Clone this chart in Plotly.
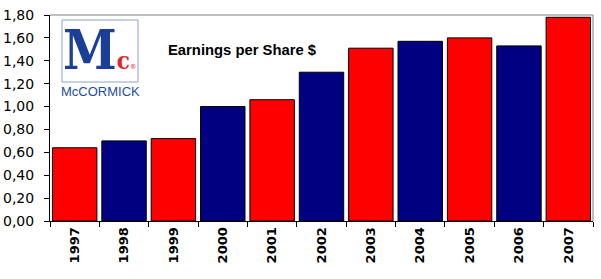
import plotly.graph_objects as go

years = ["1997", "1998", "1999", "2000", "2001", "2002", "2003", "2004", "2005", "2006", "2007"]
eps = [0.64, 0.70, 0.72, 1.00, 1.06, 1.30, 1.51, 1.57, 1.60, 1.53, 1.78]
colors = ["#FF0000", "#000080"] * 6
colors = colors[:len(years)]
ytick_vals = [0, 0.2, 0.4, 0.6, 0.8, 1.0, 1.2, 1.4, 1.6, 1.8]
ytick_text = ["0,00", "0,20", "0,40", "0,60", "0,80", "1,00", "1,20", "1,40", "1,60", "1,80"]

fig = go.Figure()
fig.add_trace(go.Bar(x=years, y=eps, marker=dict(color=colors, line=dict(color="black", width=1))))

fig.update_layout(
    width=601, height=279,
    margin=dict(l=50, r=8, t=15, b=58, autoexpand=False),
    paper_bgcolor="white", plot_bgcolor="white",
    bargap=0.1, showlegend=False,
    xaxis=dict(type="category", showline=True, linecolor="black", linewidth=1, automargin=False,
               ticks="outside", tickson="boundaries", ticklen=5, tickcolor="black",
               tickangle=-90, tickfont=dict(family="DejaVu Sans", size=13, color="black", weight="bold"),
               showgrid=False),
    yaxis=dict(range=[0, 1.8], tickvals=ytick_vals, ticktext=ytick_text, showline=True,
               linecolor="black", linewidth=1, ticks="outside", ticklen=5, tickcolor="black",
               ticklabelstandoff=7, automargin=False,
               tickfont=dict(family="DejaVu Sans", size=14, color="black"),
               showgrid=False, zeroline=False),
)

def px(xp):
    return (xp - 50) / 543

def py(yp):
    return (221 - yp) / 206

# gray frame top/right
fig.add_shape(type="line", xref="paper", yref="paper", x0=0, x1=1, y0=1, y1=1, line=dict(color="#808080", width=1))
fig.add_shape(type="line", xref="paper", yref="paper", x0=1, x1=1, y0=0, y1=1, line=dict(color="#808080", width=1))

# logo box
fig.add_shape(type="rect", xref="paper", yref="paper",
              x0=px(62), x1=px(138), y0=py(82), y1=py(20),
              line=dict(color="#8fa3c8", width=1), fillcolor="white")
logo = ("<b>M<span style='color:#e8212e;font-size:24px'>c</span></b>"
        "<span style='color:#e8212e;font-size:7px'>®</span>")
fig.add_annotation(xref="paper", yref="paper", x=px(99), y=py(50), xanchor="center", yanchor="middle",
                   text=logo, showarrow=False,
                   font=dict(family="DejaVu Serif Condensed, DejaVu Serif", size=54, color="#1b3f99"))
fig.add_annotation(xref="paper", yref="paper", x=px(100), y=py(92), xanchor="center", yanchor="middle",
                   text="McCORMICK", showarrow=False,
                   font=dict(family="Liberation Sans", size=13, color="#1b4fa0"))

fig.add_annotation(xref="paper", yref="paper", x=px(166), y=py(50), xanchor="left", yanchor="middle",
                   text="<b>Earnings per Share $</b>", showarrow=False,
                   font=dict(family="Liberation Sans", size=14.8, color="black"))

fig.write_html("out.html")
